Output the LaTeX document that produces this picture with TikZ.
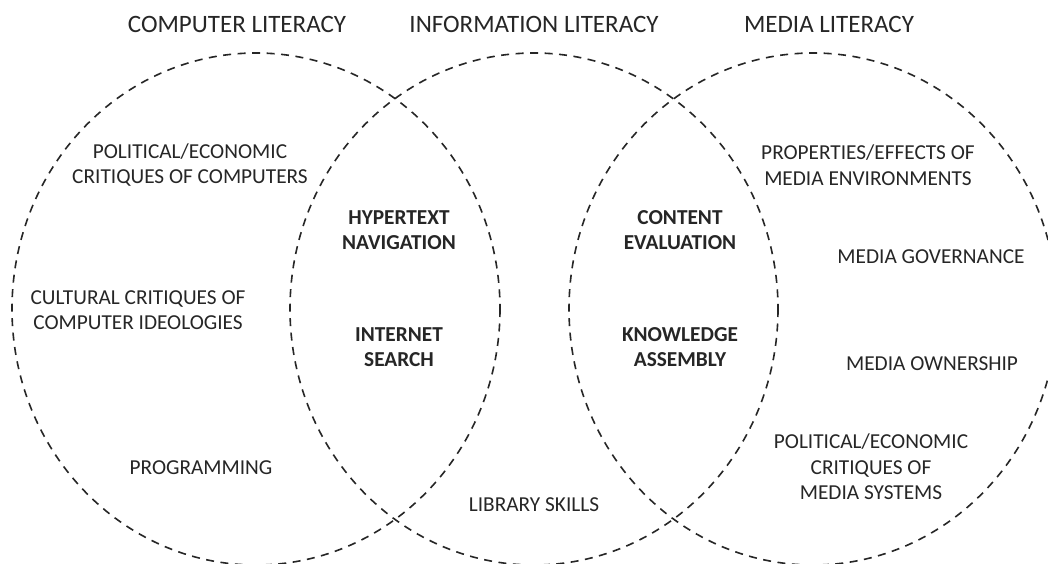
\documentclass[tikz,border=0pt]{standalone}
\usepackage{fontspec}
\setmainfont{Carlito}
\definecolor{ink}{HTML}{262626}
\tikzset{
  circ/.style={draw=ink, line width=1.6pt, dash pattern=on 8pt off 6.5pt},
  title/.style={text=ink, font=\fontsize{25}{30}\selectfont, inner sep=0pt},
  item/.style={text=ink, font=\fontsize{21.3}{25.5}\selectfont, align=center, inner sep=0pt},
  core/.style={item, font=\fontsize{21.3}{25.5}\selectfont\bfseries}
}
\begin{document}
\begin{tikzpicture}[x=1pt,y=-1pt]
\useasboundingbox (0,0) rectangle (1048,563);
\fill[white] (0,0) rectangle (1048,563);
% circles
\draw[circ] (256,309) ellipse [x radius=244, y radius=256];
\draw[circ] (534,309) ellipse [x radius=244, y radius=256];
\draw[circ] (813,309) ellipse [x radius=244, y radius=256];
% titles
\node[title] (t1) at (237,24) {COMPUTER LITERACY};
\node[title] (t2) at (534,24) {INFORMATION LITERACY};
\node[title] (t3) at (829,24) {MEDIA LITERACY};
% left circle
\node[item] (pec) at (190,165) {POLITICAL/ECONOMIC\\CRITIQUES OF COMPUTERS};
\node[item] (ccc) at (138,310) {CULTURAL CRITIQUES OF\\COMPUTER IDEOLOGIES};
\node[item] (prog) at (201,468) {PROGRAMMING};
% overlaps
\node[core] (hyp) at (399,230) {HYPERTEXT\\NAVIGATION};
\node[core] (net) at (399,347) {INTERNET\\SEARCH};
\node[core] (cont) at (680,230) {CONTENT\\EVALUATION};
\node[core] (know) at (680,347) {KNOWLEDGE\\ASSEMBLY};
% middle
\node[item] (lib) at (534,505) {LIBRARY SKILLS};
% right circle
\node[item] (prop) at (868,165) {PROPERTIES/EFFECTS OF\\MEDIA ENVIRONMENTS};
\node[item] (gov) at (931,257) {MEDIA GOVERNANCE};
\node[item] (own) at (932,364) {MEDIA OWNERSHIP};
\node[item] (pms) at (871,467) {POLITICAL/ECONOMIC\\CRITIQUES OF\\MEDIA SYSTEMS};
\end{tikzpicture}
\end{document}
